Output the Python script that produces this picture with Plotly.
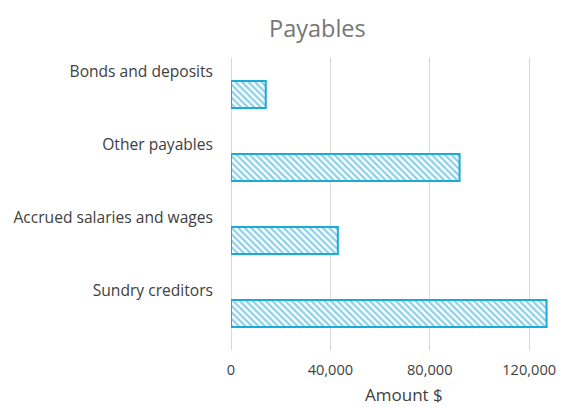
import plotly.graph_objects as go

# Payables by category (top to bottom as drawn)
categories = ["Bonds and deposits", "Other payables", "Accrued salaries and wages", "Sundry creditors"]
amounts = [14000, 92000, 43000, 127000]
x_ticks = [0, 40000, 80000, 120000]
x_tick_labels = ["0", "40,000", "80,000", "120,000"]

# numeric row positions, bottom row = 0
rows = list(range(len(categories)))[::-1]
label_shift = 0.315  # category labels sit just above their bars

blue = "#1BABD8"
font_family = "Open Sans, Lato, DejaVu Sans, sans-serif"

fig = go.Figure(
    go.Bar(
        x=amounts,
        y=rows,
        orientation="h",
        width=0.37,
        marker=dict(
            color="white",
            line=dict(color=blue, width=2),
            pattern=dict(shape="\\", fgcolor="#17A3D2", bgcolor="white", size=4.6, solidity=0.5),
        ),
        hovertext=categories,
    )
)

fig.update_layout(
    width=561,
    height=407,
    margin=dict(l=231, r=5, t=58, b=57),
    paper_bgcolor="white",
    plot_bgcolor="white",
    showlegend=False,
    font=dict(family=font_family, size=14, color="#404040"),
    xaxis=dict(
        range=[0, 130000],
        tickvals=x_ticks,
        ticktext=x_tick_labels,
        showgrid=True,
        gridcolor="#D9D9D9",
        gridwidth=1,
        zeroline=True,
        zerolinecolor="#D9D9D9",
        zerolinewidth=1,
        showline=False,
        ticks="",
        ticklabelstandoff=9,
        tickfont=dict(size=14.6, color="#404040"),
        fixedrange=True,
    ),
    yaxis=dict(
        range=[-0.5, 3.5],
        tickvals=[r + label_shift for r in rows],
        ticktext=categories,
        showgrid=False,
        zeroline=False,
        showline=False,
        ticks="",
        ticklabelstandoff=17,
        tickfont=dict(size=15.6, color="#404040"),
        fixedrange=True,
    ),
    annotations=[
        dict(
            text="Payables",
            xref="paper", yref="paper",
            x=(318 - 231) / 325, y=1,
            yshift=30,
            xanchor="center", yanchor="middle",
            showarrow=False,
            font=dict(size=23.5, color="#767676", family=font_family),
        ),
        dict(
            text="Amount $",
            xref="paper", yref="paper",
            x=(405 - 231) / 325, y=0,
            yshift=-44,
            xanchor="center", yanchor="middle",
            showarrow=False,
            font=dict(size=17, color="#404040", family=font_family),
        ),
    ],
)

fig.write_html("out.html")
